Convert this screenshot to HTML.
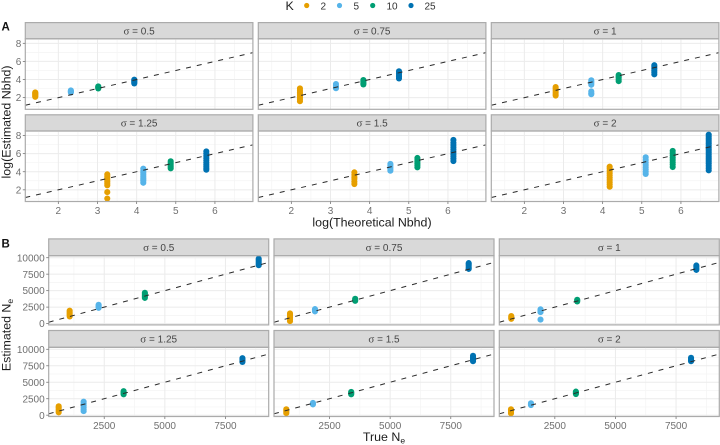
<!DOCTYPE html>
<html lang="en">
<head>
<meta charset="utf-8">
<title>Estimated versus theoretical neighbourhood size and Ne</title>
<style>
html,body{margin:0;padding:0;background:#fff;width:720px;height:445px;overflow:hidden}
svg{display:block;filter:blur(0.35px)}
text{font-family:"Liberation Sans",sans-serif}
.tick{font-size:10px;fill:#707070}
.strip{font-size:10px;fill:#454545;text-anchor:middle}
.sig{font-family:"Liberation Serif",serif;font-size:11px}
.title{font-size:12.4px;fill:#1c1c1c;text-anchor:middle}
.leg{font-size:10px;fill:#333}
.tag{font-size:11.5px;font-weight:bold;fill:#111}
</style>
</head>
<body>
<svg id="chart" xmlns="http://www.w3.org/2000/svg" width="720" height="445" viewBox="0 0 720 445">
  <rect width="720" height="445" fill="#fff"/>
  <defs id="clips"></defs>
  <g id="panels"></g>
  <g>
    <text x="285.5" y="10" font-size="12.4" fill="#222">K</text>
    <circle cx="306.7" cy="5.5" r="2.6" fill="#E69F00"/>
    <text class="leg" x="320.5" y="9.3">2</text>
    <circle cx="339.5" cy="5.5" r="2.6" fill="#56B4E9"/>
    <text class="leg" x="353.5" y="9.3">5</text>
    <circle cx="372.7" cy="5.5" r="2.6" fill="#009E73"/>
    <text class="leg" x="386.5" y="9.3">10</text>
    <circle cx="411" cy="5.5" r="2.6" fill="#0072B2"/>
    <text class="leg" x="424.5" y="9.3">25</text>
  </g>
  <text class="tag" x="1.5" y="30.7">A</text>
  <text class="tag" x="1.5" y="247.3">B</text>
  <text class="title" transform="translate(10.5,122) rotate(-90)">log(Estimated Nbhd)</text>
  <text class="title" x="372" y="226.5">log(Theoretical Nbhd)</text>
  <text class="title" transform="translate(10.5,335) rotate(-90)">Estimated N<tspan font-size="8.5" dy="2.5">e</tspan></text>
  <text class="title" x="384" y="441">True N<tspan font-size="8.5" dy="2.5">e</tspan></text>
</svg>
<script>
// ---------- data ----------
const sigmaLabels = ['0.5', '0.75', '1', '1.25', '1.5', '2'];
const kLevels = ['2', '5', '10', '25'];

const aXTicks = [2, 3, 4, 5, 6];
const aYTicks = [2, 4, 6, 8];
const aXMinor = [1.5, 2.5, 3.5, 4.5, 5.5, 6.5];
const aYMinor = [1, 3, 5, 7];
const bXTicks = [2500, 5000, 7500];
const bYTicks = [0, 2500, 5000, 7500, 10000];
const bXMinor = [1250, 3750, 6250, 8750];
const bYMinor = [1250, 3750, 6250, 8750];

// Section A: one theoretical value per K for each sigma
const aTheoretical = [
  [1.41, 2.32, 3.02, 3.94],
  [2.22, 3.14, 3.84, 4.75],
  [2.80, 3.71, 4.41, 5.32],
  [3.25, 4.17, 4.87, 5.78],
  [3.61, 4.53, 5.22, 6.14],
  [4.18, 5.10, 5.79, 6.71]
];
// Section A: estimates per sigma, per K
const aEstimated = [
  [[2.09, 2.2, 2.3, 2.4, 2.5, 2.58], [2.56, 2.65, 2.72, 2.8], [3.01, 3.1, 3.18, 3.24], [3.57, 3.68, 3.8, 3.9, 3.98]],
  [[1.6, 1.8, 2.0, 2.2, 2.4, 2.6, 2.8, 3.02], [3.04, 3.15, 3.3, 3.5], [3.46, 3.6, 3.75, 3.94], [4.12, 4.3, 4.5, 4.7, 4.91]],
  [[2.23, 2.4, 2.6, 2.8, 3.0, 3.17], [2.38, 2.5, 2.69, 3.42, 3.6, 3.75, 3.91], [3.82, 4.0, 4.2, 4.35, 4.5], [4.57, 4.8, 5.0, 5.2, 5.4, 5.58]],
  [[1.04, 1.75, 2.5, 2.7, 2.9, 3.1, 3.3, 3.5, 3.71], [2.78, 3.0, 3.15, 3.3, 3.5, 3.7, 3.9, 4.1, 4.34], [4.38, 4.55, 4.75, 4.95, 5.15], [4.22, 4.4, 4.6, 4.8, 5.0, 5.25, 5.5, 5.75, 6.0, 6.25]],
  [[2.64, 2.9, 3.2, 3.4, 3.65, 3.93], [4.11, 4.3, 4.5, 4.7, 4.86], [4.49, 4.7, 4.9, 5.1, 5.3, 5.52], [5.18, 5.45, 5.7, 5.95, 6.2, 6.45, 6.7, 6.95, 7.2, 7.51]],
  [[2.34, 2.6, 2.85, 3.1, 3.35, 3.6, 3.85, 4.1, 4.35, 4.56], [3.75, 4.0, 4.25, 4.5, 4.75, 5.0, 5.3, 5.59], [4.52, 4.8, 5.05, 5.3, 5.55, 5.8, 6.05, 6.3], [4.15, 4.4, 4.65, 4.9, 5.1, 5.3, 5.5, 5.7, 5.9, 6.1, 6.3, 6.5, 6.7, 6.9, 7.1, 7.3, 7.5, 7.7, 7.9, 8.1]]
];

// Section B: true Ne per K for each sigma
const bTrue = [
  [1075, 2269, 4176, 8871],
  [870, 1900, 3558, 8240],
  [704, 1910, 3423, 8336],
  [622, 1651, 3300, 8200],
  [717, 1816, 3394, 8418],
  [692, 1516, 3369, 8118]
];
// Section B: estimates per sigma, per K
const bEstimated = [
  [[1090, 1300, 1500, 1750, 1955], [2390, 2550, 2700, 2860], [3900, 4100, 4300, 4500, 4680], [8860, 9100, 9350, 9600, 9830]],
  [[380, 650, 900, 1150, 1350, 1545], [1850, 1980, 2100, 2200], [3450, 3600, 3770], [8300, 8500, 8750, 9000, 9180]],
  [[730, 850, 1000, 1150], [610, 1750, 1900, 2050, 2160], [3360, 3500, 3620], [8150, 8350, 8600, 8820]],
  [[425, 650, 900, 1150, 1355], [625, 900, 1200, 1500, 1800, 2055], [3165, 3300, 3470, 3640], [8080, 8250, 8450, 8660]],
  [[320, 500, 700, 900], [1640, 1750, 1860], [3165, 3300, 3420, 3530], [8190, 8400, 8600, 8800, 9010]],
  [[275, 450, 650, 900], [1540, 1680, 1810], [3210, 3350, 3470, 3580], [8190, 8350, 8550, 8710]]
];

// ---------- drawing ----------
const NS = 'http://www.w3.org/2000/svg';
const kColor = { '2': '#E69F00', '5': '#56B4E9', '10': '#009E73', '25': '#0072B2' };

function mk(parent, tag, attrs) {
  const el = document.createElementNS(NS, tag);
  for (const k in attrs) el.setAttribute(k, attrs[k]);
  parent.appendChild(el);
  return el;
}
function linear(d0, d1, r0, r1) {
  return v => r0 + (v - d0) / (d1 - d0) * (r1 - r0);
}

function drawPanel(o) {
  const root = document.getElementById('panels');
  const g = mk(root, 'g', {});
  
  

  const sx = linear(o.xDomain[0], o.xDomain[1], o.left, o.left + o.width);
  const sy = linear(o.yDomain[0], o.yDomain[1], o.top + o.height, o.top);

  const clip = mk(document.getElementById('clips'), 'clipPath', { id: 'clip-' + o.id });
  mk(clip, 'rect', { x: o.left, y: o.top, width: o.width, height: o.height });

  // strip
  const strip = mk(g, 'rect', { x: o.left, y: o.top - o.stripH, width: o.width, height: o.stripH, fill: '#d9d9d9', stroke: '#ababab', 'stroke-width': 1.2 });
  
  
  const label = mk(g, 'text', { class: 'strip', x: o.left + o.width / 2, y: o.top - o.stripH / 2 + 3.6 });
  
  
  const sig = mk(label, 'tspan', { class: 'sig' });
  sig.textContent = '\u03C3';
  const rest = mk(label, 'tspan', {});
  rest.textContent = ' = ' + o.sigma;

  // grid
  const grid = mk(g, 'g', {});
  
  
  o.xMinor.forEach(v => mk(grid, 'line', { x1: sx(v), x2: sx(v), y1: o.top, y2: o.top + o.height, stroke: '#f4f4f4', 'stroke-width': 0.7 }));
  o.yMinor.forEach(v => mk(grid, 'line', { x1: o.left, x2: o.left + o.width, y1: sy(v), y2: sy(v), stroke: '#f4f4f4', 'stroke-width': 0.7 }));
  o.xTicks.forEach(v => mk(grid, 'line', { x1: sx(v), x2: sx(v), y1: o.top, y2: o.top + o.height, stroke: '#ebebeb', 'stroke-width': 1 }));
  o.yTicks.forEach(v => mk(grid, 'line', { x1: o.left, x2: o.left + o.width, y1: sy(v), y2: sy(v), stroke: '#ebebeb', 'stroke-width': 1 }));

  // points
  const marks = mk(g, 'g', { 'clip-path': 'url(#clip-' + o.id + ')' });
  kLevels.forEach((k, i) => {
    const series = mk(marks, 'g', { fill: kColor[k] });
    
    
    o.est[i].forEach(v => {
      const c = mk(series, 'circle', { cx: sx(o.xs[i]), cy: sy(v), r: 3.05 });
      
      
    });
  });

  // identity line
  const ref = mk(marks, 'line', { x1: sx(o.xDomain[0]), y1: sy(o.xDomain[0]), x2: sx(o.xDomain[1]), y2: sy(o.xDomain[1]), stroke: '#2a2a2a', 'stroke-width': 1, 'stroke-dasharray': '5 6' });
  
  

  // border
  const border = mk(g, 'rect', { x: o.left, y: o.top, width: o.width, height: o.height, fill: 'none', stroke: '#ababab', 'stroke-width': 1.2 });
  
  

  // axes
  if (o.showY) {
    o.yTicks.forEach(v => {
      mk(g, 'line', { x1: o.left - 2.5, x2: o.left, y1: sy(v), y2: sy(v), stroke: '#777', 'stroke-width': 0.8 });
      const t = mk(g, 'text', { class: 'tick', x: o.left - 4, y: sy(v) + 3.6, 'text-anchor': 'end' });
      
      
      t.textContent = v;
    });
  }
  if (o.showX) {
    o.xTicks.forEach(v => {
      mk(g, 'line', { x1: sx(v), x2: sx(v), y1: o.top + o.height, y2: o.top + o.height + 2.5, stroke: '#777', 'stroke-width': 0.8 });
      const t = mk(g, 'text', { class: 'tick', x: sx(v), y: o.top + o.height + 12.6, 'text-anchor': 'middle' });
      
      
      t.textContent = v;
    });
  }
}

sigmaLabels.forEach((s, i) => {
  const col = i % 3, row = Math.floor(i / 3);
  drawPanel({
    id: 'a-' + i, sigma: s, showX: row === 1, showY: col === 0,
    left: 25.3 + col * 233, width: 227.6,
    top: row === 0 ? 38.8 : 131, height: 70.5, stripH: 16.2,
    xDomain: [1.156, 6.97], yDomain: [0.71, 8.5],
    xTicks: aXTicks, yTicks: aYTicks, xMinor: aXMinor, yMinor: aYMinor,
    xs: aTheoretical[i], est: aEstimated[i]
  });
  drawPanel({
    id: 'b-' + i, sigma: s, showX: row === 1, showY: col === 0,
    left: 48.7 + col * 225.3, width: 220,
    top: row === 0 ? 255.7 : 347.3, height: 69.2, stripH: 16.8,
    xDomain: [210, 9283], yDomain: [-198, 10303],
    xTicks: bXTicks, yTicks: bYTicks, xMinor: bXMinor, yMinor: bYMinor,
    xs: bTrue[i], est: bEstimated[i]
  });
});
</script>
</body>
</html>
